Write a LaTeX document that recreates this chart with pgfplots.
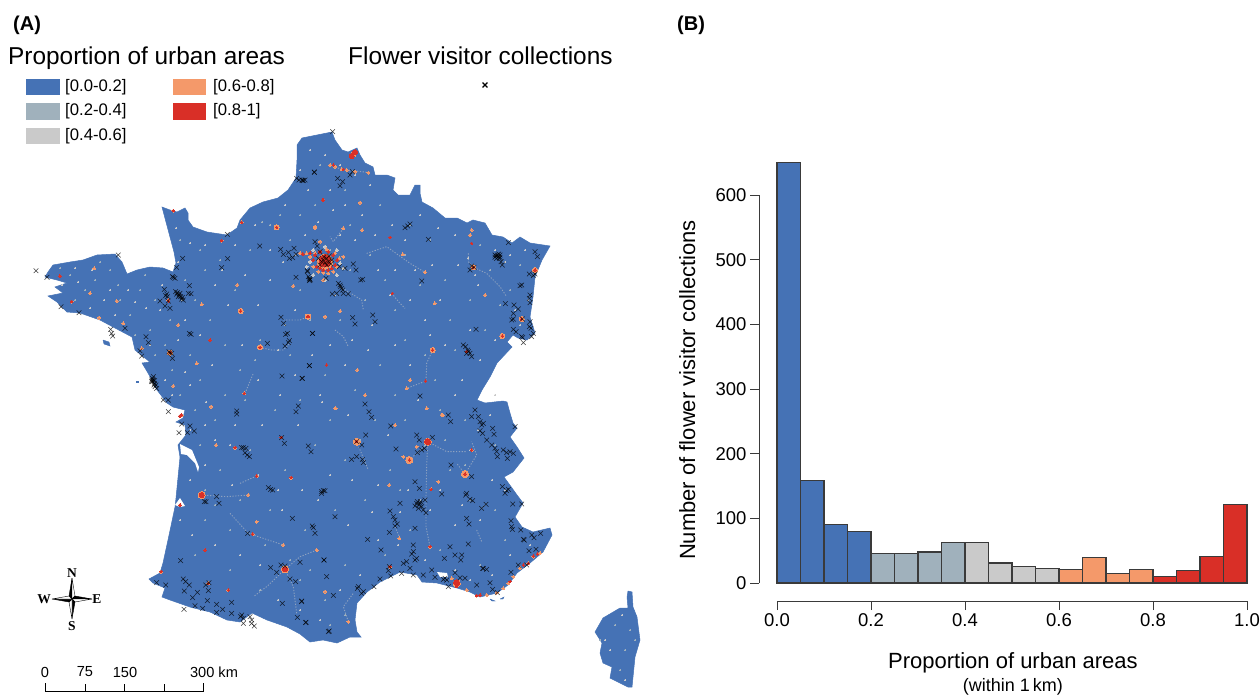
\documentclass[border=0pt]{standalone}
\usepackage{fontspec}
\setmainfont{Liberation Sans}
\newfontfamily\serifb{Liberation Serif}
\usepackage{pgfplots}
\pgfplotsset{compat=1.18}
\definecolor{cA}{HTML}{4572B5}
\definecolor{cB}{HTML}{A0B1BC}
\definecolor{cC}{HTML}{CACACA}
\definecolor{cD}{HTML}{F4996A}
\definecolor{cE}{HTML}{D92F27}
\definecolor{edge}{HTML}{3A3A3A}
\pgfplotsset{
 zA/.style={x filter/.code={\pgfmathparse{##1/3}\pgfmathresult},y filter/.code={\pgfmathparse{##1/3+120}\pgfmathresult}},
 zB/.style={x filter/.code={\pgfmathparse{##1/3+300}\pgfmathresult},y filter/.code={\pgfmathparse{##1/3+120}\pgfmathresult}},
 zC/.style={x filter/.code={\pgfmathparse{##1/3}\pgfmathresult},y filter/.code={\pgfmathparse{##1/3+400}\pgfmathresult}},
 zD/.style={x filter/.code={\pgfmathparse{##1/3+300}\pgfmathresult},y filter/.code={\pgfmathparse{##1/3+400}\pgfmathresult}},
 cross/.style={only marks,mark=x,mark size=3.3pt,mark options={draw=black,line width=.55pt,opacity=.75}},
 spot/.style 2 args={only marks,mark=*,mark size=#2,mark options={draw=#1,fill=#1,line width=0pt}},
 road/.style={no marks,draw=#1,line width=.9pt,opacity=.55,dash pattern=on 1.2pt off 1.6pt},
}
\begin{document}
\begin{tikzpicture}
\path[use as bounding box] (0,0) rectangle (1260pt,696pt);
\begin{axis}[at={(0,0)},anchor=south west,scale only axis,width=1260pt,height=696pt,
 xmin=0,xmax=1260,ymin=0,ymax=696,y dir=reverse,hide axis,clip=false]
% France outline
\addplot[fill=cA,draw=cA,line width=.5pt,no marks] coordinates {
(48,272)(53,265)(70,262)(83,260)(97,255)(115,254)(122,262)(127,274)(137,270)(150,267)(163,268)(173,272)(176,263)(174,252)(170,237)(166,222)(162,207)(170,210)(177,212)(185,208)(188,213)(188,220)(193,227)(207,232)(227,235)(237,228)(240,220)(250,208)(263,202)(278,198)(288,190)(296,178)(297,160)(297,145)(302,138)(317,135)(332,132)(335,140)(342,150)(348,152)(357,148)(360,155)(365,163)(373,167)(375,175)(387,175)(395,178)(393,190)(398,195)(410,195)(415,185)(420,185)(420,193)(422,202)(433,208)(445,218)(457,218)(467,223)(473,220)(485,223)(492,235)(503,237)(512,243)(520,237)(530,243)(550,246)(542,260)(535,277)(533,297)(530,317)(535,333)(527,340)(518,338)(513,335)(507,342)(512,347)(497,363)(490,377)(482,390)(477,400)(485,403)(503,401)(507,402)(510,413)(513,423)(517,428)(510,437)(517,447)(524,458)(513,472)(504,477)(512,488)(517,495)(523,503)(515,517)(522,527)(533,532)(550,528)(552,535)(543,552)(530,563)(517,573)(508,585)(497,593)(480,597)(470,592)(457,588)(437,583)(422,582)(417,575)(400,572)(390,577)(380,582)(367,592)(357,603)(355,620)(357,632)(361,637)(350,637)(337,643)(323,640)(310,642)(300,634)(287,627)(267,620)(252,613)(240,622)(227,620)(210,612)(190,607)(170,600)(162,597)(165,588)(153,583)(149,579)(160,573)(163,563)(168,540)(175,507)(176,498)(180,457)(178,445)(186,435)(185,425)(176,422)(183,418)(185,410)(173,407)(167,403)(157,390)(148,373)(142,363)(150,362)(135,350)(132,337)(115,328)(100,320)(80,313)(67,312)(57,302)(48,296)(63,293)(55,287)(67,283)(57,280)(45,277)(48,272)};
% Corsica
\addplot[fill=cA,draw=cA,line width=.5pt,no marks] coordinates {
(628,591)(632,592)(633,607)(637,617)(640,640)(635,657)(632,687)(628,687)(610,678)(612,667)(603,663)(600,653)(602,643)(595,632)(603,618)(620,608)(628,608)(627,597)(628,591)};
% islands
\addplot[fill=cA,draw=cA,no marks] coordinates {(103,340)(109,342)(110,346)(104,344)(103,340)};
\addplot[fill=cA,draw=cA,no marks] coordinates {(136,381)(138,381)(138,382)(136,382)(136,381)};
\addplot[fill=cA,draw=cA,no marks] coordinates {(490,599)(495,601)(492,601)(490,599)};
\addplot[fill=cA,draw=cA,no marks] coordinates {(500,599)(504,597)(503,599)(500,599)};
% water inside the outline
\addplot[fill=white,draw=none,no marks] coordinates {(180,444)(192,450)(199,467)(198,472)(195,463)(187,455)(181,454)(180,444)};
\addplot[fill=white,draw=none,no marks] coordinates {(175,505)(180,498)(185,506)(180,507)(175,505)};
\addplot[fill=white,draw=none,no marks] coordinates {(437,572)(447,573)(448,577)(440,577)(437,572)};
% roads (light traces)
\addplot[road=cC,zB] coordinates {(505,400)(505,425)(520,442)(560,460)(600,500)(620,530)};
\addplot[road=cC,zB] coordinates {(275,520)(300,550)(315,565)};
\addplot[road=cC,zB] coordinates {(130,325)(100,365)(90,350)};
\addplot[road=cC,zB] coordinates {(105,630)(130,650)(145,680)};
\addplot[road=cC,zB] coordinates {(398,690)(380,730)(378,783)(320,805)};
\addplot[road=cC,zB] coordinates {(200,400)(260,380)(330,430)(375,457)};
\addplot[road=cC,zB] coordinates {(90,135)(125,148)(210,158)};
\addplot[road=cC,zB] coordinates {(120,500)(185,540)(190,570)};
\addplot[road=cC,zA] coordinates {(735,820)(760,760)};
\addplot[road=cC,zA] coordinates {(780,682)(815,690)(850,690)(870,670)};
\addplot[road=cC,zA] coordinates {(850,600)(900,600)(925,590)};
\addplot[road=cC,zD] coordinates {(383,125)(440,155)(500,155)};
\addplot[road=cC,zD] coordinates {(383,125)(380,200)(378,290)(378,380)(390,440)};
\addplot[road=cC,zD] coordinates {(495,222)(530,165)(515,125)};
\addplot[road=cC,zD] coordinates {(495,222)(470,190)};
\addplot[road=cC,zD] coordinates {(328,180)(383,130)};
\addplot[road=cC,zD] coordinates {(170,125)(205,210)};
\addplot[road=cC,zD] coordinates {(300,415)(285,380)};
\addplot[road=cC,zD] coordinates {(545,325)(560,310)};
\addplot[road=cC,zD] coordinates {(530,390)(545,425)};
\addplot[road=cC,zD] coordinates {(145,665)(130,620)(160,580)};
\addplot[road=cC,zC] coordinates {(855,508)(900,470)(950,450)};
\addplot[road=cC,zC] coordinates {(855,508)(880,560)(890,640)};
\addplot[road=cC,zC] coordinates {(855,508)(800,560)(760,590)};
\addplot[road=cC,zC] coordinates {(605,285)(680,290)(745,285)};
\addplot[road=cC,zC] coordinates {(690,340)(745,400)(850,435)};
\addplot[road=cC,zC] coordinates {(720,250)(770,228)};
% grey specks
\addplot[spot={cB}{.7pt}] coordinates {
(70,275)(85,290)(95,280)(110,270)(120,300)(140,290)(155,300)(130,315)(150,330)(170,320)(185,280)(195,300)(205,270)(220,260)(235,290)(250,250)(262,222)(280,215)(290,240)(300,290)(210,320)(225,345)(190,355)(165,345)(172,370)(200,380)(240,370)(260,340)(285,325)(310,320)(340,320)(365,300)(385,280)(405,255)(430,240)(445,280)(470,300)(490,270)(485,330)(455,350)(435,380)(405,340)(380,365)(355,390)(325,375)(300,400)(275,410)(245,400)(215,420)(200,445)(220,470)(250,450)(285,470)(315,445)(345,460)(375,420)(405,420)(440,410)(465,420)(450,470)(470,500)(495,510)(420,500)(390,470)(365,500)(335,510)(305,530)(270,510)(240,500)(205,520)(195,555)(230,570)(260,590)(300,580)(325,600)(345,565)(385,555)(410,530)(440,550)(480,565)(505,540)(320,165)(345,190)(315,205)(350,225)(380,205)(300,215)(270,225)(410,225)(330,250)(350,270)(370,255)(395,310)(420,285)(450,320)(510,290)(500,305)(480,245)(520,265)(200,250)(180,240)(600,640)(615,625)(625,650)(620,670)(630,630)(635,640)(182,300)(118,285)(75,300)(60,268)(100,262)(145,275)(135,335)(155,355)(180,395)(195,410)(225,395)(255,360)(290,355)(330,420)(360,440)(395,395)(425,355)(205,490)(215,505)(230,530)(265,545)(290,560)(310,570)(330,625)(345,615)(425,445)(445,440)(400,490)(465,465)(495,445)};
\addplot[spot={cC}{.6pt}] coordinates {
(78,282)(92,270)(104,300)(115,315)(128,290)(146,308)(162,285)(178,262)(190,243)(176,228)(205,245)(215,285)(228,305)(245,275)(258,305)(270,280)(283,262)(295,255)(305,235)(318,222)(333,210)(345,205)(362,215)(375,235)(392,225)(405,240)(420,215)(438,228)(455,235)(468,258)(478,285)(505,262)(515,310)(470,330)(440,300)(425,320)(410,300)(390,295)(372,325)(352,340)(330,345)(312,355)(295,375)(278,350)(242,345)(212,365)(190,385)(178,340)(150,345)(206,402)(235,425)(262,425)(298,425)(322,402)(348,415)(388,435)(418,400)(455,395)(478,430)(470,450)(492,480)(480,520)(455,525)(430,510)(408,490)(378,485)(352,480)(330,475)(302,490)(278,490)(258,475)(232,485)(205,465)(190,480)(180,520)(192,535)(215,545)(240,555)(260,565)(278,600)(300,610)(320,620)(340,590)(360,575)(378,540)(398,545)(425,560)(455,570)(470,580)(492,575)(510,555)(530,545)(310,150)(325,155)(340,165)(355,175)(370,185)(300,170)(308,190)(330,190)(285,205)(255,225)(235,245)(222,270)(270,250)(295,310)(335,295)(355,240)(340,235)(378,270)(395,270)(415,270)(432,265)(458,265)(475,275)(495,250)(510,255)(525,250)(528,300)(520,325)(495,340)(480,360)(462,380)(445,345)(430,335)(410,365)(395,345)(368,350)(345,365)(320,395)(280,395)(258,380)(230,445)(215,440)(205,425)(190,430)(282,510)(318,500)(348,525)(372,512)(400,512)(440,490)(462,505)(505,490)(490,415)(495,395)(610,650)(605,640)(622,615)(625,680)(75,268)(90,308)(62,285)(110,290)(135,302)(160,310)(185,320)(200,335)(165,380)(172,395)(185,372)};
% salmon halos
\addplot[spot={cC}{1.6pt},zB] coordinates {(30,425)(120,430)(75,380)(75,480)(40,390)(110,390)(40,465)(110,465)(20,440)(130,445)};
\addplot[spot={cD}{7.5pt},zB] coordinates {(75,425)};
\addplot[spot={cD}{1.6pt},zB] coordinates {(45,400)(105,400)(40,440)(110,440)(70,458)(80,388)(30,410)(118,415)(85,460)(55,455)(100,455)(20,400)(0,400)(130,410)};
\addplot[spot={cD}{3.6pt},zD] coordinates {(383,125)(328,180)(170,125)(495,222)(470,550)};
\addplot[spot={cD}{3.6pt},zC] coordinates {(605,285)(855,508)};
\addplot[spot={cD}{2.6pt},zA] coordinates {(830,322)(510,698)(780,682)(722,573)(923,590)};
\addplot[spot={cD}{2.6pt},zB] coordinates {(398,690)(160,103)(520,442)(25,590)(705,450)(665,597)(607,648)};
\addplot[spot={cD}{1.5pt},zB] coordinates {(90,135)(105,140)(125,148)(140,150)(165,155)(205,158)(515,330)(510,345)(130,325)(60,365)(45,323)(555,525)(380,865)(195,825)(70,480)(172,750)(320,805)(330,780)(105,865)(428,885)(404,550)(180,248)(120,573)(186,330)(308,403)(375,457)};
\addplot[spot={cD}{1.5pt},zA] coordinates {(665,362)(630,660)(733,820)(505,540)(180,468)(215,545)(520,272)(725,307)(970,240)(945,320)(880,498)(545,885)(425,685)(590,730)(712,495)(605,553)(535,615)(297,593)(350,543)(283,445)(370,610)(270,520)(520,798)(633,860)(975,590)};
\addplot[spot={cD}{1.5pt},zC] coordinates {(705,143)(648,135)(770,228)(873,233)(615,450)(483,515)(625,550)(540,315)(685,570)(950,450)(758,402)(745,285)(850,435)(540,48)(770,365)};
\addplot[spot={cD}{1.5pt},zD] coordinates {(285,75)(107,25)(425,45)(515,150)(393,268)(390,440)(298,415)(50,450)(145,665)(75,575)(268,255)(270,500)(640,530)(660,505)(685,490)(700,470)(720,460)(625,550)(610,565)(590,578)(560,585)(530,587)(500,570)(470,550)(455,535)(415,245)(310,170)(350,140)};
% red
\addplot[spot={cE}{6pt},zB] coordinates {(75,422)};
\addplot[spot={cE}{1.5pt},zB] coordinates {(45,405)(100,405)(50,440)(105,435)(70,450)(85,395)(40,420)(112,420)(85,450)(60,445)(30,400)(8,402)(60,395)(95,445)};
\addplot[spot={cE}{2.6pt},zB] coordinates {(155,108)(165,97)};
\addplot[spot={cE}{3pt},zD] coordinates {(383,125)(470,548)};
\addplot[spot={cE}{2.6pt},zC] coordinates {(605,285)(855,508)};
\addplot[spot={cE}{1.3pt},zD] coordinates {(328,180)(170,125)(495,222)(515,150)(393,268)(390,440)(270,500)(685,490)(700,468)(530,587)(540,585)(470,560)(630,545)(670,495)(712,462)};
\addplot[spot={cE}{1.3pt},zB] coordinates {(398,690)(520,442)(515,370)(705,450)(665,597)(607,648)(25,590)(270,352)(277,520)(68,240)(377,783)(80,735)(500,695)(130,148)(100,135)};
\addplot[spot={cE}{1.3pt},zA] coordinates {(830,322)(665,362)(510,698)(630,660)(780,682)(722,573)(923,590)(733,820)(505,543)(180,468)(215,545)(725,307)(970,240)(545,885)(520,272)};
\addplot[spot={cE}{1.3pt},zC] coordinates {(705,143)(483,515)(625,550)(540,315)(843,113)(770,228)(873,233)(615,450)(540,48)(758,402)(685,570)};
% flower visitor collections
\addplot[cross,zA] coordinates {
(108,452)(141,472)(355,405)(183,560)(237,578)(332,628)(335,640)(338,648)(375,625)(438,650)(445,668)(420,692)(425,708)(493,508)(497,527)(502,530)(505,543)(480,543)(495,558)(510,565)(500,522)(527,515)(532,518)(537,525)(542,530)(545,537)(550,540)(540,520)(535,530)(530,522)(547,532)(568,497)(565,520)(573,521)(520,472)(525,475)(517,470)(530,442)(548,415)(682,343)(683,416)(665,443)(779,378)(842,388)(850,403)(865,397)(882,385)(888,403)(868,415)(878,413)(888,472)(922,452)(925,470)(930,478)(928,482)(890,175)(897,180)(905,180)(910,182)(915,180)(943,156)(568,640)(573,643)(843,592)(851,610)(857,643)(862,640)(868,662)(865,668)(855,678)(802,670)(510,698)(515,700)(507,695)(517,715)(937,640)(928,737)(846,768)(906,775)(457,775)(460,780)(463,790)(465,800)(470,805)(455,785)(462,795)(468,795)(458,785)(464,782)(460,770)(490,840)(505,840)(455,780)};
\addplot[cross,zB] coordinates {
(98,35)(43,157)(113,175)(128,185)(120,197)(150,165)(157,155)(8,181)(315,323)(323,318)(330,312)(385,358)(625,368)(705,395)(712,410)(585,405)(592,405)(600,405)(590,415)(598,415)(603,425)(607,435)(595,410)(585,412)(588,408)(596,402)(600,412)(515,438)(510,450)(522,442)(705,462)(688,462)(700,467)(660,497)(665,495)(690,525)(688,535)(690,548)(616,551)(642,555)(655,567)(640,580)(640,597)(635,600)(667,597)(640,628)(648,635)(690,605)(688,620)(693,625)(700,640)(695,650)(668,653)(670,668)(665,650)(45,365)(52,378)(60,395)(55,415)(65,425)(75,430)(85,425)(80,435)(70,420)(95,420)(60,435)(80,415)(72,410)(88,408)(92,432)(118,440)(135,445)(160,432)(168,450)(78,475)(22,455)(28,475)(30,480)(182,480)(188,478)(120,495)(125,505)(115,490)(128,510)(130,520)(110,520)(97,522)(145,522)(122,500)(158,593)(165,612)(218,585)(225,605)(38,640)(28,737)(7,775)(365,483)(528,628)(490,675)(497,680)(503,690)(510,700)(515,710)(500,700)(505,695)(360,828)};
\addplot[cross,zC] coordinates {
(505,35)(545,72)(570,78)(583,93)(562,98)(537,98)(710,33)(710,42)(888,35)(895,18)(730,143)(725,143)(738,145)(735,158)(742,165)(748,170)(845,113)(853,130)(925,138)(933,155)(805,263)(812,268)(818,270)(965,275)(970,272)(965,280)(975,272)(613,305)(618,305)(650,290)(657,310)(877,355)(937,378)(940,383)(945,400)(743,400)(812,503)(830,517)(843,495)(855,498)(870,537)(887,545)(900,487)(972,480)(542,482)(550,537)(557,545)(568,555)(553,573)(592,577)(578,593)(627,548)(617,555)(625,572)(622,602)(585,617)(608,625)(650,613)(650,637)(668,628)(695,607)(695,640)(552,628)(725,645)(722,650)(730,655)(750,650)(755,660)(763,678)(730,670)(755,670)(847,610)(905,603)(892,652)(917,668)(985,695)(470,548)(497,555)};
\addplot[cross,zD] coordinates {
(195,12)(207,35)(215,52)(272,78)(197,105)(170,125)(185,135)(155,178)(170,170)(187,178)(190,188)(350,105)(358,120)(373,145)(365,150)(352,158)(288,147)(397,112)(445,45)(452,65)(515,50)(525,30)(535,50)(540,65)(545,75)(550,70)(540,92)(548,100)(578,85)(582,103)(560,120)(575,135)(585,145)(590,155)(592,170)(610,150)(620,158)(630,155)(640,160)(622,175)(645,80)(453,195)(515,230)(345,245)(358,265)(607,260)(625,268)(615,280)(620,272)(500,280)(497,285)(510,298)(518,302)(425,282)(638,312)(665,312)(558,313)(545,325)(300,310)(270,333)(280,350)(285,360)(292,372)(285,378)(268,397)(345,385)(350,310)(358,315)(365,320)(375,300)(355,325)(345,318)(370,330)(378,338)(362,305)(352,305)(360,310)(105,350)(203,418)(243,450)(500,355)(507,372)(633,362)(635,380)(637,388)(662,390)(670,418)(673,420)(702,413)(695,405)(722,400)(505,432)(450,440)(340,435)(340,455)(335,462)(350,475)(345,480)(330,505)(320,485)(310,490)(433,475)(465,465)(485,465)(482,480)(687,452)(708,448)(655,495)(680,495)(633,517)(72,480)(80,530)(5,605)(18,667)(88,693)(100,586)(268,500)(265,512)(240,537)(272,528)(222,560)(190,575)(175,560)(172,565)(185,580)(305,520)(340,525)(370,525)(395,510)(405,532)(430,538)(440,540)(435,535)(445,560)(465,518)(480,533)(495,535)(530,555)(550,505)(560,508)(570,548)(578,568)(592,578)(548,505)};
% legend swatches
\fill[cA] (axis cs:26,79) rectangle (axis cs:60,95);
\fill[cB] (axis cs:26,103) rectangle (axis cs:60,120);
\fill[cC] (axis cs:26,128) rectangle (axis cs:60,144);
\fill[cD] (axis cs:173,79) rectangle (axis cs:206,95);
\fill[cE] (axis cs:173,103) rectangle (axis cs:206,120);
\addplot[only marks,mark=x,mark size=3.4pt,mark options={draw=black,line width=1.1pt}] coordinates {(485,85)};
\def\lg{\fontsize{16.7}{18}\selectfont}
\node[anchor=west,inner sep=0pt] at (axis cs:65,87) {\lg [0.0-0.2]};
\node[anchor=west,inner sep=0pt] at (axis cs:65,111) {\lg [0.2-0.4]};
\node[anchor=west,inner sep=0pt] at (axis cs:65,136) {\lg [0.4-0.6]};
\node[anchor=west,inner sep=0pt] at (axis cs:213,87) {\lg [0.6-0.8]};
\node[anchor=west,inner sep=0pt] at (axis cs:213,111) {\lg [0.8-1]};
\node[anchor=base west,inner sep=0pt] at (axis cs:8,64) {\fontsize{24.4}{28}\selectfont Proportion of urban areas};
\node[anchor=base west,inner sep=0pt] at (axis cs:348,64) {\fontsize{24.4}{28}\selectfont Flower visitor collections};
\node[anchor=west,inner sep=0pt] at (axis cs:13,25) {\fontsize{20}{24}\selectfont\bfseries (A)};
\node[anchor=west,inner sep=0pt] at (axis cs:677,25) {\fontsize{20}{24}\selectfont\bfseries (B)};
% compass
\addplot[fill=black,draw=black,line width=.4pt,no marks] coordinates {(72,578)(69,596)(72,599)(72,578)};
\addplot[fill=white,draw=black,line width=.4pt,no marks] coordinates {(72,578)(75,596)(72,599)(72,578)};
\addplot[fill=black,draw=black,line width=.4pt,no marks] coordinates {(92,599)(75,596)(72,599)(92,599)};
\addplot[fill=white,draw=black,line width=.4pt,no marks] coordinates {(92,599)(75,602)(72,599)(92,599)};
\addplot[fill=black,draw=black,line width=.4pt,no marks] coordinates {(72,619)(75,602)(72,599)(72,619)};
\addplot[fill=white,draw=black,line width=.4pt,no marks] coordinates {(72,619)(69,602)(72,599)(72,619)};
\addplot[fill=black,draw=black,line width=.4pt,no marks] coordinates {(52,599)(69,602)(72,599)(52,599)};
\addplot[fill=white,draw=black,line width=.4pt,no marks] coordinates {(52,599)(69,596)(72,599)(52,599)};
\def\cp{\fontsize{13.5}{14}\selectfont\serifb\bfseries}
\node[inner sep=0pt] at (axis cs:72,573) {\cp N};
\node[inner sep=0pt] at (axis cs:72,626) {\cp S};
\node[inner sep=0pt] at (axis cs:44,599) {\cp W};
\node[inner sep=0pt] at (axis cs:97,599) {\cp E};
% scale bar
\addplot[draw=black,line width=.7pt,no marks] coordinates {(45,683)(45,691.5)(203,691.5)(203,683)};
\addplot[draw=black,line width=.7pt,no marks] coordinates {(85,684)(85,691.5)};
\addplot[draw=black,line width=.7pt,no marks] coordinates {(124,684)(124,691.5)};
\addplot[draw=black,line width=.7pt,no marks] coordinates {(164,684)(164,691.5)};
\def\sb{\fontsize{14.6}{16}\selectfont}
\node[inner sep=0pt] at (axis cs:45,672) {\sb 0};
\node[inner sep=0pt] at (axis cs:85,672) {\sb 75};
\node[inner sep=0pt] at (axis cs:125,672) {\sb 150};
\node[inner sep=0pt] at (axis cs:214,672) {\sb 300 km};
\end{axis}
% histogram
\begin{axis}[at={(777pt,113pt)},anchor=south west,scale only axis,width=470pt,height=388pt,
 xmin=0,xmax=1,ymin=0,ymax=600,clip=false,
 axis x line*=bottom,axis y line*=left,
 axis x line shift=18pt,axis y line shift=18pt,
 axis line style={draw=edge,line width=1pt,-},
 xtick={0,0.2,0.4,0.6,0.8,1},ytick={0,100,200,300,400,500,600},
 tick align=outside,major tick length=9pt,
 tick style={draw=edge,line width=1pt},
 /pgf/number format/assume math mode=true,
 ticklabel style={font=\fontsize{18.5}{20}\selectfont},
 xticklabel style={/pgf/number format/.cd,fixed,fixed zerofill,precision=1},
 xlabel={Proportion of urban areas\\[-2.5pt]{\fontsize{18}{21}\selectfont (within 1\,km)}},
 ylabel={Number of flower visitor collections},
 every axis x label/.style={at={(axis description cs:0.502,-0.17)},anchor=north,align=center,font=\fontsize{22}{26}\selectfont},
 every axis y label/.style={at={(axis description cs:-0.191,0.4975)},rotate=90,anchor=center,font=\fontsize{22}{26}\selectfont},
]
\addplot[ybar interval,fill=cA,draw=edge,line width=1.1pt] coordinates {(0,650)(0.05,158)(0.1,91)(0.15,80)(0.2,0)};
\addplot[ybar interval,fill=cB,draw=edge,line width=1.1pt] coordinates {(0.2,45)(0.25,46)(0.3,48)(0.35,62)(0.4,0)};
\addplot[ybar interval,fill=cC,draw=edge,line width=1.1pt] coordinates {(0.4,62)(0.45,31)(0.5,26)(0.55,22)(0.6,0)};
\addplot[ybar interval,fill=cD,draw=edge,line width=1.1pt] coordinates {(0.6,21)(0.65,40)(0.7,14)(0.75,21)(0.8,0)};
\addplot[ybar interval,fill=cE,draw=edge,line width=1.1pt] coordinates {(0.8,10)(0.85,19)(0.9,41)(0.95,121)(1,0)};
\end{axis}
\end{tikzpicture}
\end{document}
